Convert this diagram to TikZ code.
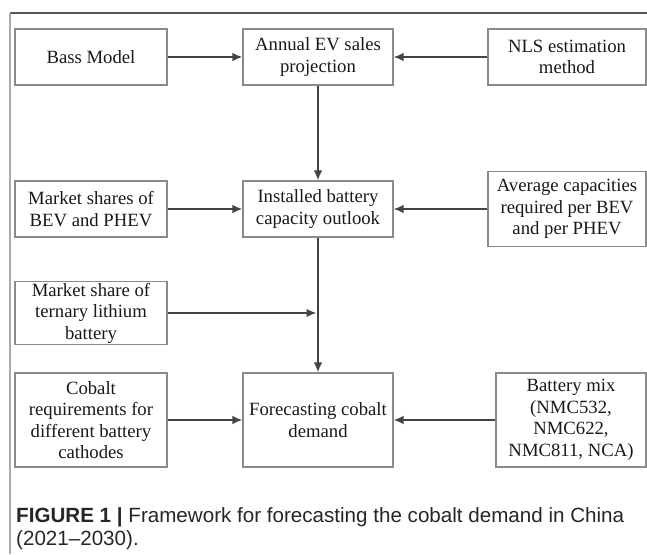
\documentclass[tikz,border=0pt]{standalone}
\usepackage{fontspec}
\setmainfont{Liberation Serif}
\newfontfamily\capfont{Liberation Sans}
\usepackage{tikz}
\usetikzlibrary{arrows.meta}

\definecolor{boxgray}{HTML}{8A8A8A}
\definecolor{flowgray}{HTML}{444444}
\definecolor{rulegray}{HTML}{555555}
\definecolor{sidegray}{HTML}{ABABAB}

\tikzset{
    blk/.style = {draw = boxgray, line width = 1.1pt, inner sep = 0pt, align = center,
                  minimum height = 56pt, text = black!90,
                  font = \fontsize{18.7}{21.5}\selectfont},
    flow/.style = {draw = flowgray, line width = 1.7pt,
                   -{Latex[length = 10pt, width = 8.5pt]}},
    captxt/.style = {anchor = west, inner sep = 0pt, text = black!85,
                     font = \capfont\fontsize{20.6}{23}\selectfont}
}

\begin{document}
\begin{tikzpicture}[x = 1pt, y = -1pt]
    \useasboundingbox (0, 0) rectangle (647, 554);

    \draw[rulegray, line width = 1.3pt] (10, 13) -- (647, 13);
    \draw[sidegray, line width = 1.5pt] (10, 13) -- (10, 554);

    \node[blk, minimum width = 152pt] (bass) at (91, 57) {Bass Model};
    \node[blk, minimum width = 150pt] (annual) at (318, 57) {Annual EV sales\\projection};
    \node[blk, minimum width = 158pt] (nls) at (567, 57) {NLS estimation\\method};

    \node[blk, minimum width = 152pt] (shares) at (91, 209) {Market shares of\\BEV and PHEV};
    \node[blk, minimum width = 150pt] (installed) at (318, 209) {Installed battery\\capacity outlook};
    \node[blk, minimum width = 158pt, minimum height = 75pt] (avgcap) at (567, 209)
        {Average capacities\\required per BEV\\and per PHEV};

    \node[blk, minimum width = 152pt, minimum height = 63pt] (ternary) at (91, 313)
        {Market share of\\ternary lithium\\battery};

    \node[blk, minimum width = 152pt, minimum height = 94pt] (cobalt) at (91, 420)
        {Cobalt\\requirements for\\different battery\\cathodes};
    \node[blk, minimum width = 150pt, minimum height = 94pt] (forecast) at (318, 420)
        {Forecasting cobalt\\demand};
    \node[blk, minimum width = 150pt, minimum height = 94pt] (mix) at (571, 420)
        {Battery mix\\(NMC532,\\NMC622,\\NMC811, NCA)};

    \coordinate (join) at (installed.south |- ternary.east);

    \draw[flow] (bass) -- (annual);
    \draw[flow] (nls) -- (annual);
    \draw[flow] (annual) -- (installed);
    \draw[flow] (shares) -- (installed);
    \draw[flow] (avgcap) -- (installed);
    \draw[flow] (installed) -- (forecast);
    \draw[flow] (ternary.east) -- ([xshift = -1.5pt] join);
    \draw[flow] (cobalt) -- (forecast);
    \draw[flow] (mix) -- (forecast);

    \node[captxt] (caption) at (16, 517)
        {\textbf{FIGURE 1 |} Framework for forecasting the cobalt demand in China};
    \node[captxt] (years) at (16, 540) {(2021–2030).};
\end{tikzpicture}
\end{document}
